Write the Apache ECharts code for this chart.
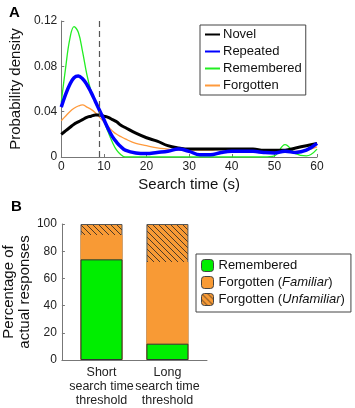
<!DOCTYPE html>
<html><head><meta charset="utf-8">
<script src="https://cdn.jsdelivr.net/npm/echarts@6/dist/echarts.min.js"></script>
<style>html,body{margin:0;padding:0;background:#fff}#c{width:355px;height:408px}</style>
</head><body><div id="c"></div>
<script>
// Panel A data
var times = [0,1,2,3,4,5,6,7,8,9,10,11,12,13,14,15,17.5,20,22.5,25,27.5,30,32.5,35,37.5,40,42.5,45,47.5,50,52.5,55,57.5,60];
var novel = [0.020,0.023,0.026,0.029,0.031,0.033,0.035,0.036,0.037,0.037,0.036,0.035,0.033,0.031,0.028,0.026,0.021,0.017,0.014,0.010,0.008,0.007,0.007,0.007,0.007,0.007,0.007,0.007,0.006,0.006,0.006,0.008,0.010,0.012];
var repeated = [0.044,0.055,0.064,0.070,0.0715,0.069,0.064,0.057,0.049,0.041,0.033,0.025,0.018,0.013,0.009,0.006,0.0035,0.003,0.004,0.005,0.007,0.005,0.002,0.002,0.004,0.005,0.005,0.005,0.004,0.0035,0.005,0.004,0.006,0.012];
var remembered = [0.048,0.078,0.104,0.115,0.110,0.093,0.073,0.058,0.048,0.040,0.032,0.022,0.013,0.006,0.002,0,0,0,0,0,0,0,0,0,0,0,0,0,0,0.001,0.011,0.003,0.001,0.007];
var forgotten = [0.032,0.036,0.040,0.043,0.045,0.046,0.044,0.042,0.039,0.035,0.031,0.027,0.023,0.020,0.018,0.016,0.012,0.010,0.008,0.007,0.006,0.006,0.006,0.006,0.007,0.007,0.007,0.007,0.006,0.005,0.005,0.005,0.006,0.009];
var thresholdTime = 9;

// Panel B data
var barCategories = ['Short\nsearch time\nthreshold', 'Long\nsearch time\nthreshold'];
var barRemembered = [74, 12];
var barFamiliar = [18, 60];
var barUnfamiliar = [8, 28];

function pair(vals){ return times.map(function(t,i){ return [t, vals[i]]; }); }
// cumulative tops (bars drawn back-to-front, overlapping)
function tops(k){ return barRemembered.map(function(v,i){
  var s = v; if(k>=1) s += barFamiliar[i]; if(k>=2) s += barUnfamiliar[i]; return [i+1, s]; }); }

// hatch pattern
var pc = document.createElement('canvas');
pc.width = 6; pc.height = 6;
var g = pc.getContext('2d');
g.fillStyle = '#f89a35'; g.fillRect(0,0,6,6);
g.strokeStyle = '#222'; g.lineWidth = 0.8;
g.beginPath(); g.moveTo(0,0); g.lineTo(6,6); g.moveTo(-3,3); g.lineTo(3,9); g.moveTo(3,-3); g.lineTo(9,3); g.stroke();

var FONT = 'Liberation Sans';
var chart = echarts.init(document.getElementById('c'), null, {renderer:'canvas'});
var axisLine = {lineStyle:{color:'#777', width:1}};
var tick = {inside:true, length:3, lineStyle:{color:'#777'}};
var lbl = {color:'#222', fontFamily:FONT, fontSize:12};

chart.setOption({
  animation:false,
  textStyle:{fontFamily:FONT},
  graphic:[
    {type:'text', left:9, top:5, style:{text:'A', font:'bold 15px '+FONT, fill:'#000'}},
    {type:'text', left:11, top:199, style:{text:'B', font:'bold 15px '+FONT, fill:'#000'}}
  ],
  grid:[
    {left:57, top:21, right:38, bottom:251, containLabel:false},
    {left:55, top:224, right:148, bottom:47, containLabel:false}
  ],
  legend:[
    {orient:'vertical', left:200, top:25, itemWidth:15, itemHeight:12, itemGap:4, padding:[3,4,3,4],
     borderColor:'#444', borderWidth:1, backgroundColor:'#fff',
     itemStyle:{opacity:0},
     textStyle:{fontSize:13, color:'#111', fontFamily:FONT, padding:[0,0,0,-2]},
     data:['Novel','Repeated','Remembered','Forgotten']},
    {orient:'vertical', left:196, top:254, itemWidth:12, itemHeight:12, itemGap:4, padding:[5,6,6,5],
     borderColor:'#444', borderWidth:1, backgroundColor:'#fff',
     textStyle:{fontSize:13, color:'#111', fontFamily:FONT, rich:{i:{fontStyle:'italic', fontSize:13, fontFamily:FONT, color:'#111'}}},
     formatter:function(n){
       if(n==='Forgotten (Familiar)') return 'Forgotten ({i|Familiar})';
       if(n==='Forgotten (Unfamiliar)') return 'Forgotten ({i|Unfamiliar})';
       return n;
     },
     data:[{name:'Remembered ', itemStyle:{borderColor:'#444', borderWidth:1}},{name:'Forgotten (Familiar)', itemStyle:{borderColor:'#444', borderWidth:1}},{name:'Forgotten (Unfamiliar)', itemStyle:{borderColor:'#444', borderWidth:1}}]}
  ],
  xAxis:[
    {gridIndex:0, type:'value', min:0, max:60, interval:10, axisLine:axisLine, axisTick:tick, splitLine:{show:false},
     axisLabel:Object.assign({margin:4}, lbl),
     name:'Search time (s)', nameLocation:'middle', nameGap:20, nameTextStyle:{fontSize:15, color:'#111', fontFamily:FONT}},
    {gridIndex:1, type:'value', min:0.4, max:2.6, interval:0.2, axisLine:axisLine, axisTick:{show:false}, splitLine:{show:false},
     axisLabel:Object.assign({showMinLabel:true, showMaxLabel:true, hideOverlap:false, lineHeight:14, margin:6, formatter:function(v){
       if(Math.abs(v-1)<0.01) return barCategories[0];
       if(Math.abs(v-2)<0.01) return barCategories[1];
       return ''; }}, lbl, {fontSize:12.5})}
  ],
  yAxis:[
    {gridIndex:0, type:'value', min:0, max:0.12, interval:0.04, axisLine:{show:true, lineStyle:{color:'#777'}}, axisTick:Object.assign({show:true}, tick), splitLine:{show:false},
     axisLabel:Object.assign({margin:4, formatter:function(v){ return v===0?'0':String(Number(v.toFixed(2))); }}, lbl),
     name:'Probability density', nameLocation:'middle', nameGap:36, nameTextStyle:{fontSize:15, color:'#111', fontFamily:FONT}},
    {gridIndex:1, type:'value', min:0, max:100, interval:20, axisLine:{show:true, lineStyle:{color:'#777'}}, axisTick:{show:true, inside:true, length:3, lineStyle:{color:'#777'}}, splitLine:{show:false},
     axisLabel:Object.assign({margin:5}, lbl),
     name:'Percentage of\nactual responses', nameLocation:'middle', nameGap:22, nameTextStyle:{fontSize:15, color:'#111', fontFamily:FONT, lineHeight:16}}
  ],
  series:[
    {name:'Novel', type:'line', xAxisIndex:0, yAxisIndex:0, data:pair(novel), smooth:0.4, symbol:'none', lineStyle:{color:'#000', width:3}, itemStyle:{color:'#000'}, z:3,
     markLine:{silent:true, symbol:'none', label:{show:false}, lineStyle:{color:'#555', type:[6,4], width:1.2}, data:[{xAxis:thresholdTime}]}},
    {name:'Forgotten', type:'line', xAxisIndex:0, yAxisIndex:0, data:pair(forgotten), smooth:0.4, symbol:'none', lineStyle:{color:'#ff9a3c', width:1.3}, itemStyle:{color:'#ff9a3c'}, z:2},
    {name:'Remembered', type:'line', xAxisIndex:0, yAxisIndex:0, data:pair(remembered), smooth:0.4, symbol:'none', lineStyle:{color:'#22ee22', width:1.3}, itemStyle:{color:'#22ee22'}, z:2},
    {name:'Repeated', type:'line', xAxisIndex:0, yAxisIndex:0, data:pair(repeated), smooth:0.4, symbol:'none', lineStyle:{color:'#0000ff', width:3.5}, itemStyle:{color:'#0000ff'}, z:4},
    {name:'Forgotten (Unfamiliar)', type:'bar', xAxisIndex:1, yAxisIndex:1, barWidth:42, barGap:'-100%', z:2,
     data:tops(2), itemStyle:{color:{image:pc, repeat:'repeat'}, borderColor:'#555', borderWidth:1}},
    {name:'Forgotten (Familiar)', type:'bar', xAxisIndex:1, yAxisIndex:1, barWidth:42, barGap:'-100%', z:3,
     data:tops(1), itemStyle:{color:'#f89a35', borderWidth:0}},
    {name:'Remembered ', type:'bar', xAxisIndex:1, yAxisIndex:1, barWidth:42, barGap:'-100%', z:4,
     data:tops(0), itemStyle:{color:'#00ee00', borderColor:'#333', borderWidth:1}}
  ]
});
</script></body></html>
